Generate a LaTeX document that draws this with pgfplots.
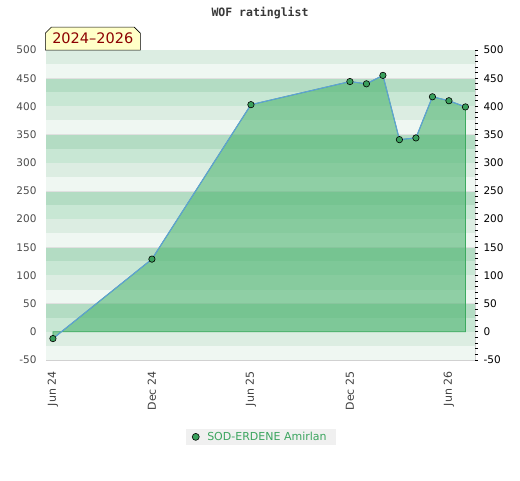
\documentclass[border=0pt]{standalone}
\usepackage{pgfplots}
\pgfplotsset{compat=1.18}
\usepackage{fontspec}
\setmainfont{DejaVu Sans}
\newfontfamily\monofont{DejaVu Sans Mono}
\usetikzlibrary{shapes.misc}
\definecolor{bandL}{RGB}{220,237,226}
\definecolor{bandVL}{RGB}{239,247,242}
\definecolor{bandM}{RGB}{179,220,195}
\definecolor{bandML}{RGB}{200,231,212}
\definecolor{fillG}{RGB}{74,179,110}
\definecolor{edgeG}{RGB}{60,170,95}
\definecolor{lineB}{RGB}{95,160,215}
\definecolor{markG}{RGB}{58,160,92}
\definecolor{legG}{RGB}{60,165,95}
\definecolor{boxY}{RGB}{255,255,200}
\definecolor{darkred}{RGB}{140,0,0}
\pgfplotstableread{
x y
0 -12
6 129
12 403
18 444
19 440
20 455
21 341
22 344
23 417
24 410
25 399
}\ratings
\newcommand{\xmn}{-0.42}
\newcommand{\xmx}{25.58}
\newcommand{\band}[3]{\fill[#3] (axis cs:\xmn,#1) rectangle (axis cs:\xmx,#2);}
\begin{document}
\begin{tikzpicture}[x=1pt,y=1pt]
\path[use as bounding box] (0,0) rectangle (520,480);
\begin{axis}[
  at={(46pt,120pt)}, anchor=south west,
  scale only axis, width=429pt, height=310pt,
  xmin=-0.42, xmax=25.58, ymin=-50, ymax=500,
  axis line style={draw=black!18},
  xtick={0,6,12,18,24},
  xticklabels={Jun 24,Dec 24,Jun 25,Dec 25,Jun 26},
  x tick label style={rotate=90, anchor=east, font=\fontsize{11}{13}\selectfont, text=black!75, xshift=-8pt},
  ytick={-50,0,50,100,150,200,250,300,350,400,450,500},
  yticklabels={-50,0,50,100,150,200,250,300,350,400,450,500},
  y tick label style={font=\fontsize{10.5}{12}\selectfont, text=black!70, xshift=-6pt},
  major tick length=0pt,
  axis on top=false,
  clip=false,
  legend image code/.code={\draw[#1, mark size=3.5pt] plot coordinates {(0pt,0pt)};},
  legend style={at={(axis description cs:0.501,-0.248)}, anchor=center,
    fill=black!6, draw=none, font=\fontsize{11}{13}\selectfont, text=legG,
    inner xsep=6pt, inner ysep=1pt, column sep=5pt, nodes={inner xsep=3pt, inner ysep=2pt}},
  legend cell align=left,
]
\band{475}{500}{bandL}
\band{450}{475}{bandVL}
\band{425}{450}{bandM}
\band{400}{425}{bandML}
\band{375}{400}{bandL}
\band{350}{375}{bandVL}
\band{325}{350}{bandM}
\band{300}{325}{bandML}
\band{275}{300}{bandL}
\band{250}{275}{bandVL}
\band{225}{250}{bandM}
\band{200}{225}{bandML}
\band{175}{200}{bandL}
\band{150}{175}{bandVL}
\band{125}{150}{bandM}
\band{100}{125}{bandML}
\band{75}{100}{bandL}
\band{50}{75}{bandVL}
\band{25}{50}{bandM}
\band{0}{25}{bandML}
\band{-25}{0}{bandL}
\band{-50}{-25}{bandVL}
\foreach \g in {450,350,250,150,50} {\edef\tmp{\noexpand\draw[black!12] (axis cs:\xmn,\g) -- (axis cs:\xmx,\g);}\tmp}
\addplot[forget plot, draw=edgeG, line width=0.8pt, fill=fillG, fill opacity=0.58]
  coordinates {(0,0) (0,-12) (6,129) (12,403) (18,444) (19,440) (20,455) (21,341) (22,344) (23,417) (24,410) (25,399) (25,0)} -- cycle;
\addplot[forget plot, draw=lineB, line width=1.1pt, no marks] table[x=x,y=y] {\ratings};
\addplot[only marks, mark=*, mark size=3.2pt, mark options={fill=markG, draw=black, line width=0.6pt}] table[x=x,y=y] {\ratings};
\addlegendentry{SOD-ERDENE Amirlan}
\end{axis}
\begin{axis}[
  at={(46pt,120pt)}, anchor=south west,
  scale only axis, width=429pt, height=310pt,
  xmin=-0.42, xmax=25.58, ymin=-50, ymax=500,
  axis x line=none,
  axis y line*=right,
  y axis line style={draw=none},
  ytick={-50,0,50,100,150,200,250,300,350,400,450,500},
  yticklabels={-50,0,50,100,150,200,250,300,350,400,450,500},
  minor ytick={-40,-30,-20,-10,10,20,30,40,60,70,80,90,110,120,130,140,160,170,180,190,210,220,230,240,260,270,280,290,310,320,330,340,360,370,380,390,410,420,430,440,460,470,480,490},
  tick align=outside,
  major tick length=3pt, minor tick length=2.5pt,
  every tick/.style={black, line width=0.7pt},
  y tick label style={font=\fontsize{10.5}{12}\selectfont, text=black, xshift=2pt},
]
\addplot[draw=none] coordinates {(0,0)};
\end{axis}
\node[font=\monofont\bfseries\fontsize{11.5}{13}\selectfont, text=black!78] at (260,467) {WOF ratinglist};
\node[chamfered rectangle, chamfered rectangle corners={north west,north east}, chamfered rectangle xsep=3pt, chamfered rectangle ysep=3pt,
  draw=black, line width=0.6pt, fill=boxY, text=darkred, font=\fontsize{14.5}{16}\selectfont,
  minimum width=95pt, minimum height=23pt, inner sep=0pt, anchor=south west] at (45,429.5) {2024--2026};
\end{tikzpicture}
\end{document}
